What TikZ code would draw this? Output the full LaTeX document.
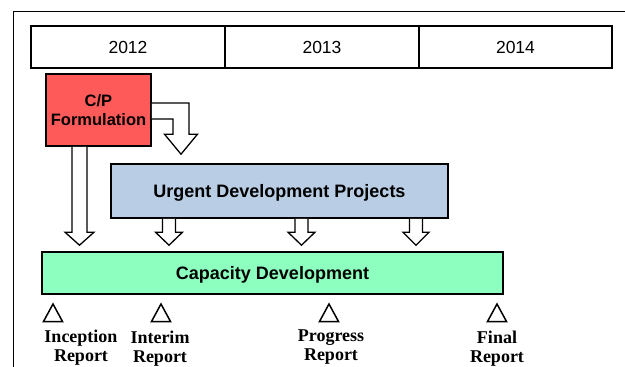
\documentclass[tikz,border=0pt]{standalone}
\usepackage{fontspec}
\setmainfont{Liberation Serif}
\newfontfamily\arialfont{Liberation Sans}
\usetikzlibrary{calc}
\definecolor{cpred}{HTML}{FF5A5A}
\definecolor{udpblue}{HTML}{B9CDE5}
\definecolor{capgreen}{HTML}{8DFFBF}

% hollow block arrow pointing down: column, source node, target node, shaft half width, head half width
\newcommand\dnarrow[5]{%
  \draw[blockarrow] let \p1=(#1 |- #2.south), \p2=(#1 |- #3.north) in
    (\x1-#4,\y1) -- (\x1-#4,\y2+19pt) -- (\x1-#5,\y2+19pt) -- (\x1,\y2+6pt)
    -- (\x1+#5,\y2+19pt) -- (\x1+#4,\y2+19pt) -- (\x1+#4,\y1);}

\begin{document}
\begin{tikzpicture}[x=1pt,y=-1pt,
  yearcell/.style={draw,line width=1.8pt,inner sep=0pt,minimum height=42pt,
    font=\arialfont\fontsize{17.5}{20}\selectfont},
  phase/.style={draw,line width=1.6pt,inner sep=0pt,text depth=0pt,
    font=\arialfont\bfseries\fontsize{18}{20}\selectfont},
  blockarrow/.style={draw,line width=1.3pt,fill=white,line join=miter},
  milestone/.style={draw,line width=1.5pt,line join=miter},
  report/.style={anchor=base,inner sep=0pt,font=\bfseries\fontsize{18}{20}\selectfont}]
\useasboundingbox (0,0) rectangle (625,367);

% outer frame
\draw[line width=1pt] (13,367) -- (13,11) -- (625,11);

% year header
\node[yearcell,minimum width=194pt] (y12) at (128,47) {2012};
\node[yearcell,minimum width=194pt] (y13) at (322,47) {2013};
\node[yearcell,minimum width=193pt] (y14) at (515.5,47) {2014};

% phases
\node[phase,fill=cpred,minimum width=105pt,minimum height=72pt,align=center,
  font=\arialfont\bfseries\fontsize{16.5}{19}\selectfont] (cp) at (98.5,110) {C/P\\Formulation};
\node[phase,fill=udpblue,minimum width=337pt,minimum height=54pt] (urg) at (279.5,191)
  {Urgent Development Projects};
\node[phase,fill=capgreen,minimum width=461pt,minimum height=42pt] (cap) at (272.5,273)
  {Capacity Development};

% arrow columns
\coordinate (c0) at (79.5,0);
\coordinate (c1) at (169,0);
\coordinate (c2) at (301.5,0);
\coordinate (c3) at (416,0);
\coordinate (bx) at (181,0);

% bent arrow from C/P to the urgent projects
\draw[blockarrow] let \p1=(cp.east), \p2=(bx |- urg.north) in
  (\x1,\y1+7pt) -- (\x2+8pt,\y1+7pt) -- (\x2+8pt,\y2+29pt) -- (\x2+16.5pt,\y2+29pt)
  -- (\x2,\y2+9pt) -- (\x2-16.5pt,\y2+29pt) -- (\x2-8pt,\y2+29pt) -- (\x2-8pt,\y1-9pt)
  -- (\x1,\y1-9pt);

% arrows into capacity development
\dnarrow{c0}{cp}{cap}{7.5pt}{14.5pt}
\dnarrow{c1}{urg}{cap}{6.5pt}{13.5pt}
\dnarrow{c2}{urg}{cap}{6.5pt}{13.5pt}
\dnarrow{c3}{urg}{cap}{6.5pt}{13pt}

% milestones
\coordinate (m1) at (53,304);
\coordinate (m2) at (161,304);
\coordinate (m3) at (329,304);
\coordinate (m4) at (497,304);
\foreach \m in {m1,m2,m3,m4}
  \draw[milestone] (\m) -- ++(-9.5,17.5) -- ++(19,0) -- cycle;

\node[report] (incA) at (81,342) {Inception};
\node[report] (incB) at (81,361) {Report};
\node[report] (intA) at (160,343.5) {Interim};
\node[report] (intB) at (160,362.5) {Report};
\node[report] (proA) at (331,341) {Progress};
\node[report] (proB) at (331,360) {Report};
\node[report] (finA) at (497,343) {Final};
\node[report] (finB) at (497,362.5) {Report};
\end{tikzpicture}
\end{document}
